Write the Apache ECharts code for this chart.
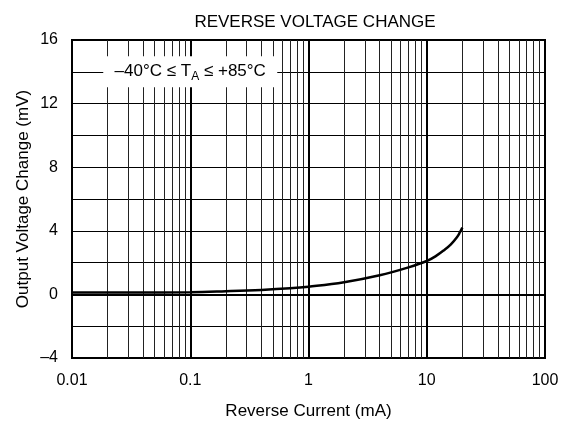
<!DOCTYPE html>
<html lang="en">
<head>
    <meta charset="UTF-8">
    <title>Reverse Voltage Change</title>
    <script src="https://cdn.jsdelivr.net/npm/echarts@6/dist/echarts.min.js"></script>
    <style>
        body { margin: 0; background: #fff; }
    </style>
</head>
<body>
<div id="main" style="width: 577px;height:426px;"></div>

<script type="text/javascript">
    // curve
    var current = [0.01, 0.03, 0.1, 0.2, 0.4, 0.7, 1, 2, 4, 7, 10, 12, 14, 16, 18, 19, 20];
    var voltChange = [0.12, 0.12, 0.14, 0.2, 0.28, 0.38, 0.48, 0.76, 1.2, 1.7, 2.1, 2.42, 2.78, 3.15, 3.6, 3.88, 4.2];

    var decades = [0.01, 0.1, 1, 10];
    var minorSteps = [2, 3, 4, 5, 6, 7, 8, 9];
    var yTicks = [-4, 0, 4, 8, 12, 16];

    var fontFam = 'Liberation Sans, Arial, sans-serif';

    // minor vertical grid lines at 2..9 of each decade
    var minorLines = [];
    decades.forEach(function (d) {
        minorSteps.forEach(function (m) {
            minorLines.push({ xAxis: +(d * m).toPrecision(3) });
        });
    });

    var curveData = current.map(function (c, i) { return [c, voltChange[i]]; });

    var myChart = echarts.init(document.getElementById('main'));

    var option = {
        animation: false,
        title: {
            text: 'REVERSE VOLTAGE CHANGE',
            left: 310,
            textAlign: 'center',
            top: 9,
            textStyle: { fontFamily: fontFam, fontSize: 17, fontWeight: 'normal', color: '#000' }
        },
        grid: {
            left: 72, right: 32, top: 40, bottom: 68,
            show: true, borderColor: '#000', borderWidth: 2, backgroundColor: '#fff'
        },
        xAxis: {
            type: 'log',
            logBase: 10,
            min: 0.01,
            max: 100,
            name: 'Reverse Current (mA)',
            nameLocation: 'middle',
            nameGap: 45,
            nameTextStyle: { fontFamily: fontFam, fontSize: 17, color: '#000' },
            axisLine: { show: false },
            axisTick: { show: false },
            axisLabel: {
                fontFamily: fontFam, fontSize: 16, color: '#000', margin: 15,
                formatter: function (v) { return String(+v.toPrecision(3)); }
            },
            splitLine: { show: true, lineStyle: { color: '#000', width: 2 } }
        },
        yAxis: {
            type: 'value',
            min: -4,
            max: 16,
            interval: 4,
            name: 'Output Voltage Change (mV)',
            nameLocation: 'middle',
            nameGap: 40,
            nameMoveOverlap: false,
            nameTextStyle: { fontFamily: fontFam, fontSize: 17, color: '#000' },
            axisLine: { show: false },
            axisTick: { show: false },
            axisLabel: {
                fontFamily: fontFam, fontSize: 16, color: '#000', margin: 14,
                formatter: function (v) { return String(v).replace('-', '\u2013'); }
            },
            splitLine: { show: true, lineStyle: { color: '#000', width: 1 } },
            minorTick: { show: false, splitNumber: 2 },
            minorSplitLine: { show: true, lineStyle: { color: '#000', width: 1 } }
        },
        series: [
            {
                type: 'line',
                data: [],
                silent: true,
                markLine: {
                    silent: true,
                    symbol: 'none',
                    label: { show: false },
                    lineStyle: { color: '#222', width: 1, type: 'solid' },
                    data: minorLines
                }
            },
            {
                type: 'line',
                data: [],
                silent: true,
                markLine: {
                    silent: true,
                    symbol: 'none',
                    label: { show: false },
                    lineStyle: { color: '#000', width: 2, type: 'solid' },
                    data: [{ yAxis: 0 }]
                }
            },
            {
                type: 'line',
                data: curveData,
                smooth: 0.4,
                showSymbol: false,
                z: 5,
                lineStyle: { color: '#000', width: 2.5 },
                markPoint: {
                    silent: true,
                    symbol: 'rect',
                    symbolSize: [174, 31],
                    itemStyle: { color: '#fff' },
                    label: {
                        show: true,
                        formatter: '\u201340\u00b0C \u2264 T{sub|A} \u2264 +85\u00b0C',
                        fontFamily: fontFam,
                        fontSize: 17,
                        color: '#000',
                        rich: {
                            sub: { fontFamily: fontFam, fontSize: 12, color: '#000', verticalAlign: 'bottom', padding: [9, 0, 0, 0] }
                        }
                    },
                    data: [{ coord: [0.1, 14] }]
                }
            }
        ]
    };

    myChart.setOption(option);
</script>
</body>
</html>
